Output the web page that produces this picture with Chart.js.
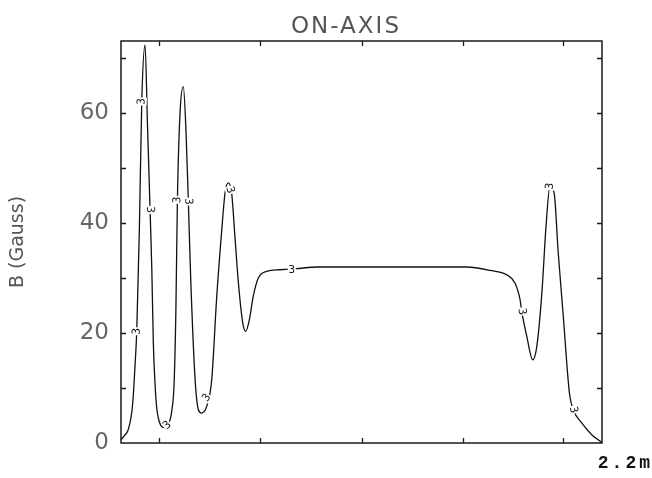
<!DOCTYPE html>
<html>
<head>
<meta charset="utf-8">
<title>ON-AXIS</title>
<script src="https://cdn.jsdelivr.net/npm/chart.js@4/dist/chart.umd.min.js"></script>
<style>
  html, body { margin: 0; padding: 0; background: #fff; }
  #wrap { width: 652px; height: 478px; }
</style>
</head>
<body>
<div id="wrap"><canvas id="chart" width="652" height="478"></canvas></div>
<script>
// ---- data ----
// position along the axis (m) and field (Gauss)
const posM = [
  0.000, 0.015, 0.033, 0.049, 0.056, 0.064, 0.072, 0.084, 0.095, 0.110,
  0.121, 0.133, 0.141, 0.148, 0.156, 0.163, 0.171, 0.186, 0.201, 0.215,
  0.231, 0.243, 0.251, 0.258, 0.270, 0.285, 0.297, 0.308, 0.319, 0.339,
  0.354, 0.369, 0.392, 0.415, 0.438, 0.461, 0.476, 0.491, 0.506, 0.521,
  0.537, 0.557, 0.570, 0.587, 0.605, 0.628, 0.666, 0.727, 0.800, 0.900,
  1.300, 1.580, 1.688, 1.764, 1.802, 1.825, 1.833, 1.856, 1.883, 1.902,
  1.925, 1.944, 1.962, 1.981, 2.000, 2.023, 2.051, 2.069, 2.108, 2.153,
  2.199
];
const fieldB = [
  0.6, 1.3, 2.4, 5.5, 8.5, 14.0, 20.3, 38.8, 62.1, 72.4,
  58.0, 42.4, 31.5, 18.0, 10.5, 6.5, 4.5, 3.0, 2.8, 3.3,
  5.5, 11.0, 24.0, 44.2, 60.0, 64.8, 57.0, 43.9, 29.7, 11.5,
  6.05, 5.45, 6.65, 11.5, 26.7, 38.8, 45.5, 47.3, 45.5, 37.6,
  29.1, 21.8, 20.3, 22.4, 26.7, 30.0, 31.2, 31.5, 31.7, 32.0,
  32.0, 32.0, 31.4, 30.6, 29.1, 26.1, 23.9, 19.4, 15.1, 17.6,
  27.3, 39.4, 46.7, 45.5, 34.5, 23.0, 9.1, 6.05, 3.6, 1.5,
  0.1
];

// curve id markers ("3") along the trace
const markM = [0.072, 0.095, 0.133, 0.212, 0.258, 0.308, 0.392, 0.499, 0.781, 1.833, 1.962, 2.069];
const markB = [20.3, 62.1, 42.4, 3.2, 44.2, 43.9, 8.2, 46.0, 31.4, 23.9, 46.7, 6.05];
const curveId = '3';

// axes
const xMin = 0, xMax = 2.2;
const yMin = 0, yMax = 73.1;
const xTickMarks = [0.175, 0.637, 1.100, 1.563, 2.023];
const yTickMarks = [10, 20, 30, 40, 50, 60, 70];
const yLabelStep = 20;
const chartTitle = 'ON-AXIS';
const yTitle = 'B (Gauss)';
const xEndLabel = '2.2m';

const points = posM.map((m, i) => ({ x: m, y: fieldB[i] }));

// frame, inward ticks, title and end label
const framePlugin = {
  id: 'frame',
  afterDraw(chart) {
    const { ctx, chartArea: a, scales } = chart;
    const xs = scales.x, ys = scales.y;
    ctx.save();
    ctx.strokeStyle = '#1a1a1a';
    ctx.lineWidth = 1.5;
    ctx.strokeRect(a.left, a.top, a.right - a.left, a.bottom - a.top);
    ctx.lineWidth = 1.3;
    const tl = 5;
    ctx.beginPath();
    xTickMarks.forEach(v => {
      const px = Math.round(xs.getPixelForValue(v)) + 0.5;
      ctx.moveTo(px, a.bottom); ctx.lineTo(px, a.bottom - tl);
      ctx.moveTo(px, a.top);    ctx.lineTo(px, a.top + tl);
    });
    yTickMarks.forEach(v => {
      const py = Math.round(ys.getPixelForValue(v)) + 0.5;
      ctx.moveTo(a.left, py);  ctx.lineTo(a.left + tl, py);
      ctx.moveTo(a.right, py); ctx.lineTo(a.right - tl, py);
    });
    ctx.stroke();

    // title
    ctx.fillStyle = '#555';
    ctx.font = '23px "DejaVu Sans", sans-serif';
    ctx.letterSpacing = '2px';
    ctx.textAlign = 'center';
    ctx.textBaseline = 'middle';
    ctx.fillText(chartTitle, 346, 27);

    // end-of-axis label
    ctx.fillStyle = '#111';
    ctx.font = 'bold 18px "Liberation Mono", monospace';
    ctx.letterSpacing = '3px';
    ctx.textAlign = 'right';
    ctx.textBaseline = 'alphabetic';
    ctx.fillText(xEndLabel, 653, 468);
    ctx.restore();
  }
};

// small "3" labels sitting on the curve
const markerPlugin = {
  id: 'markers',
  afterDatasetsDraw(chart) {
    const { ctx, scales } = chart;
    const xs = scales.x, ys = scales.y;
    ctx.save();
    ctx.font = '11px "DejaVu Sans Mono", monospace';
    ctx.textAlign = 'center';
    ctx.textBaseline = 'middle';
    markM.forEach((m, k) => {
      const px = xs.getPixelForValue(m);
      const py = ys.getPixelForValue(markB[k]);
      let i = 0;
      while (i < posM.length - 2 && posM[i + 1] < m) i++;
      const dx = xs.getPixelForValue(posM[i + 1]) - xs.getPixelForValue(posM[i]);
      const dy = ys.getPixelForValue(fieldB[i + 1]) - ys.getPixelForValue(fieldB[i]);
      let ang = Math.atan2(dy, dx);
      if (Math.abs(ang) < 0.6) ang = 0;
      ctx.save();
      ctx.translate(px, py);
      ctx.rotate(ang);
      ctx.fillStyle = '#fff';
      ctx.fillRect(-4, -5, 8, 10);
      ctx.fillStyle = '#111';
      ctx.fillText(curveId, 0, 0);
      ctx.restore();
    });
    ctx.restore();
  }
};

new Chart(document.getElementById('chart'), {
  type: 'line',
  data: {
    datasets: [{
      data: points,
      borderColor: '#111',
      borderWidth: 1.3,
      pointRadius: 0,
      fill: false,
      cubicInterpolationMode: 'monotone'
    }]
  },
  options: {
    responsive: false,
    animation: false,
    layout: { padding: { left: 0, top: 41, right: 50, bottom: 35 } },
    plugins: {
      legend: { display: false },
      title: { display: false },
      tooltip: { enabled: false }
    },
    scales: {
      x: {
        type: 'linear',
        min: xMin,
        max: xMax,
        display: false
      },
      y: {
        min: yMin,
        max: yMax,
        afterFit(scale) { scale.width = 121; },
        afterBuildTicks(scale) {
          const t = [];
          for (let v = yMin; v <= yMax; v += yLabelStep) t.push({ value: v });
          scale.ticks = t;
        },
        grid: { display: false, drawTicks: false },
        border: { display: false },
        ticks: {
          color: '#666',
          font: { family: 'DejaVu Sans', size: 23 },
          padding: 12
        },
        title: {
          display: true,
          text: yTitle,
          color: '#555',
          font: { family: 'DejaVu Sans', size: 19 },
          padding: { top: 7, bottom: 0 }
        }
      }
    }
  },
  plugins: [framePlugin, markerPlugin]
});
</script>
</body>
</html>
